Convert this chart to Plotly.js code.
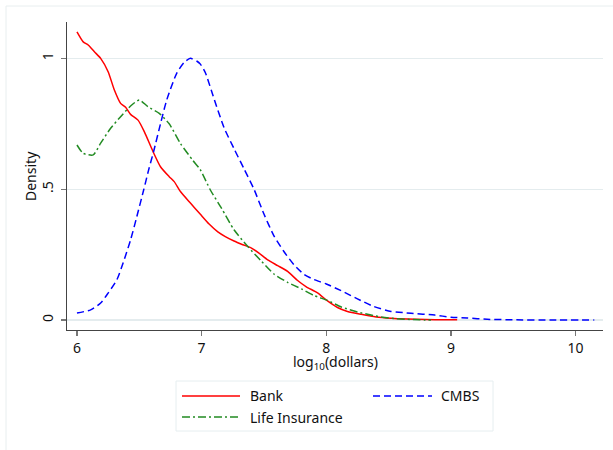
<!DOCTYPE html>
<html>
<head>
<meta charset="utf-8">
<script src="https://cdn.plot.ly/plotly-3.0.1.min.js"></script>
<style>html,body{margin:0;padding:0;background:#fff;}#chart{width:613px;height:450px;}</style>
</head>
<body>
<div id="chart"></div>
<script>
// Kernel density estimates
var bankX = [6.00,6.05,6.09,6.14,6.19,6.25,6.30,6.35,6.39,6.43,6.49,6.54,6.61,6.67,6.74,6.78,6.83,6.91,6.99,7.06,7.13,7.19,7.26,7.33,7.40,7.46,7.53,7.61,7.69,7.77,7.84,7.93,8.01,8.09,8.17,8.28,8.40,8.52,8.65,8.80,8.95,9.05];
var bankY = [1.101,1.063,1.051,1.025,1.000,0.949,0.879,0.828,0.813,0.786,0.764,0.720,0.644,0.586,0.548,0.529,0.491,0.447,0.404,0.367,0.337,0.319,0.302,0.288,0.275,0.256,0.230,0.208,0.186,0.151,0.127,0.104,0.073,0.048,0.033,0.022,0.012,0.007,0.004,0.002,0.001,0.001];

var lifeX = [6.00,6.05,6.13,6.19,6.27,6.35,6.43,6.50,6.57,6.66,6.74,6.83,6.93,6.99,7.07,7.16,7.26,7.37,7.48,7.58,7.69,7.80,7.90,8.01,8.12,8.25,8.35,8.45,8.60,8.75,8.84];
var lifeY = [0.669,0.637,0.631,0.676,0.733,0.777,0.818,0.841,0.815,0.790,0.750,0.675,0.610,0.574,0.497,0.427,0.345,0.281,0.225,0.176,0.144,0.119,0.094,0.075,0.050,0.031,0.020,0.011,0.004,0.001,0.000];

var cmbsX = [6.00,6.11,6.19,6.25,6.32,6.37,6.43,6.48,6.535,6.575,6.615,6.67,6.72,6.80,6.86,6.91,6.96,6.99,7.03,7.10,7.18,7.26,7.34,7.42,7.50,7.58,7.66,7.74,7.82,7.90,8.00,8.12,8.25,8.38,8.52,8.68,8.87,9.00,9.13,9.29,9.50,9.80,10.15];
var cmbsY = [0.027,0.039,0.065,0.103,0.154,0.218,0.306,0.395,0.497,0.574,0.644,0.750,0.841,0.943,0.985,1.000,0.990,0.978,0.945,0.845,0.735,0.655,0.578,0.500,0.405,0.322,0.262,0.212,0.175,0.155,0.138,0.112,0.081,0.052,0.033,0.026,0.019,0.011,0.008,0.003,0.001,0.000,0.000];

var seriesNames = ["Bank", "Life Insurance", "CMBS"];
var xTicks = [6, 7, 8, 9, 10];
var xTickText = ["6", "7", "8", "9", "10"];
var yTicks = [0, 0.5, 1];
var yTickText = ["0", ".5", "1"];
var xTitle = "log<sub>10</sub>(dollars)";
var yTitle = "Density";

var FONT = "Noto Sans, Open Sans, DejaVu Sans, sans-serif";
var RED = "#ff0000", GREEN = "#228b22", BLUE = "#0000ff";
var DASH_CMBS = "7px,4px";
var DASH_LIFE = "8px,3px,2px,3px";

var traces = [
  {x: bankX, y: bankY, name: seriesNames[0], mode: "lines", line: {color: RED, width: 1.5, shape: "spline", smoothing: 0.6}},
  {x: lifeX, y: lifeY, name: seriesNames[1], mode: "lines", line: {color: GREEN, width: 1.5, dash: DASH_LIFE, shape: "spline", smoothing: 0.6}},
  {x: cmbsX, y: cmbsY, name: seriesNames[2], mode: "lines", line: {color: BLUE, width: 1.5, dash: DASH_CMBS, shape: "spline", smoothing: 0.6}}
];

// plot area in pixels
var W = 613, H = 450, ML = 67, MR = 10, MT = 22, MB = 120;
var PW = W - ML - MR, PH = H - MT - MB;
function px(x) { return (x - ML) / PW; }
function py(y) { return (H - MB - y) / PH; }

var shapes = [
  // outer frame
  {type: "rect", xref: "paper", yref: "paper", x0: px(6), x1: px(640), y0: py(6), y1: py(470),
   line: {color: "#e8eeef", width: 1}, fillcolor: "rgba(0,0,0,0)", layer: "below"},
  // legend box
  {type: "rect", xref: "paper", yref: "paper", x0: px(176), x1: px(493), y0: py(381), y1: py(431),
   line: {color: "#e6eef0", width: 1}, fillcolor: "rgba(0,0,0,0)"},
  {type: "line", xref: "paper", yref: "paper", x0: px(182), x1: px(240), y0: py(396), y1: py(396),
   line: {color: RED, width: 1.5}},
  {type: "line", xref: "paper", yref: "paper", x0: px(182), x1: px(240), y0: py(417), y1: py(417),
   line: {color: GREEN, width: 1.5, dash: DASH_LIFE}},
  {type: "line", xref: "paper", yref: "paper", x0: px(373), x1: px(432), y0: py(396), y1: py(396),
   line: {color: BLUE, width: 1.5, dash: DASH_CMBS}}
];

var tf = {family: FONT, size: 14, color: "#111"};
var annotations = [
  {text: seriesNames[0], x: px(248), y: py(396), xref: "paper", yref: "paper", xanchor: "left", yanchor: "middle", showarrow: false, font: tf},
  {text: seriesNames[1], x: px(248), y: py(417), xref: "paper", yref: "paper", xanchor: "left", yanchor: "middle", showarrow: false, font: tf},
  {text: seriesNames[2], x: px(439), y: py(396), xref: "paper", yref: "paper", xanchor: "left", yanchor: "middle", showarrow: false, font: tf},
  // axis titles
  {text: xTitle, x: px(335), y: py(362), xref: "paper", yref: "paper", xanchor: "center", yanchor: "middle", showarrow: false, font: tf},
  {text: yTitle, x: px(30), y: py(176), xref: "paper", yref: "paper", xanchor: "center", yanchor: "middle", textangle: -90, showarrow: false, font: tf}
];

var layout = {
  width: W, height: H,
  margin: {l: ML, r: MR, t: MT, b: MB, pad: 0},
  paper_bgcolor: "#ffffff", plot_bgcolor: "#ffffff",
  font: tf,
  showlegend: false,
  xaxis: {
    range: [5.92, 10.22], tickvals: xTicks, ticktext: xTickText,
    showgrid: false, zeroline: false,
    showline: true, linecolor: "#444", linewidth: 1.3,
    ticks: "outside", ticklen: 5, tickwidth: 1.3, tickcolor: "#777",
    tickfont: tf
  },
  yaxis: {
    range: [-0.038, 1.139], tickvals: yTicks, ticktext: yTickText, tickangle: -90,
    ticklabelstandoff: 2,
    showgrid: true, gridcolor: "#e4ecee", gridwidth: 1.3, zeroline: false,
    showline: true, linecolor: "#444", linewidth: 1.3,
    ticks: "outside", ticklen: 5, tickwidth: 1.3, tickcolor: "#777",
    tickfont: tf
  },
  shapes: shapes,
  annotations: annotations
};

Plotly.newPlot("chart", traces, layout, {displayModeBar: false, staticPlot: true});
</script>
</body>
</html>
